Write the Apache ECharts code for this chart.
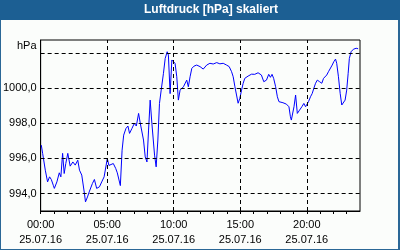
<!DOCTYPE html>
<html><head><meta charset="utf-8">
<script src="https://cdn.jsdelivr.net/npm/echarts@6/dist/echarts.min.js"></script>
<style>html,body{margin:0;padding:0;background:#fbfdfb}#c{width:400px;height:250px}</style>
</head><body><div id="c"></div>
<script>
const title = 'Luftdruck [hPa] skaliert';
const unit = 'hPa';
const dateLabel = '25.07.16';
const hours = [0.05,0.15,0.35,0.52,0.67,0.80,0.95,1.03,1.22,1.40,1.52,1.65,1.77,1.89,2.04,2.22,2.42,2.60,2.79,2.92,3.09,3.29,3.37,3.52,3.65,3.77,3.89,4.04,4.21,4.42,4.59,4.77,4.89,5.01,5.13,5.26,5.46,5.64,5.76,5.86,5.99,6.12,6.24,6.41,6.56,6.68,6.86,7.04,7.19,7.36,7.49,7.61,7.73,7.86,7.99,8.11,8.23,8.36,8.56,8.68,8.81,8.93,9.06,9.23,9.36,9.51,9.60,9.73,9.86,9.98,10.10,10.23,10.35,10.48,10.73,10.98,11.10,11.23,11.36,11.53,11.73,11.98,12.22,12.48,12.72,12.97,13.23,13.47,13.72,13.97,14.17,14.35,14.47,14.60,14.72,14.84,14.97,15.10,15.22,15.34,15.59,15.85,16.09,16.34,16.59,16.77,16.97,17.14,17.27,17.39,17.51,17.66,17.79,17.91,18.21,18.47,18.66,18.77,18.84,18.96,19.04,19.16,19.29,19.46,19.63,19.78,19.91,20.01,20.13,20.28,20.41,20.53,20.66,20.79,20.96,21.13,21.26,21.38,21.50,21.63,21.78,21.91,22.03,22.16,22.25,22.38,22.51,22.63,22.75,22.88,23.00,23.11,23.20,23.33,23.50,23.71,23.86];
const pressure = [996.76,996.29,995.33,994.66,994.95,994.80,994.47,994.29,994.66,995.18,994.95,996.29,995.14,995.71,996.29,995.56,995.80,995.62,995.90,995.33,995.05,994.00,993.52,993.80,994.09,994.00,994.57,994.80,994.29,994.38,994.66,994.95,994.86,996.00,995.60,995.52,995.71,995.43,995.18,995.20,994.45,996.47,997.33,997.71,997.85,997.43,997.71,998.00,997.85,998.57,998.00,997.90,997.05,996.09,995.80,997.62,999.33,998.00,996.19,995.52,997.05,999.14,999.90,1000.86,1001.71,1002.09,1001.90,999.70,1001.62,1001.71,1001.43,1000.66,999.33,999.90,1000.09,1000.47,1000.09,1000.66,1001.14,1001.27,1001.33,1001.24,1001.10,1001.33,1001.43,1001.39,1001.47,1001.40,1001.43,1001.33,1001.24,1000.95,1000.66,1000.09,999.62,999.15,999.43,999.90,1000.29,1000.57,1000.70,1000.81,1000.80,1000.89,1000.76,1000.38,1000.47,1000.80,1000.63,1000.80,1000.57,1000.09,999.52,999.24,999.18,999.10,998.95,998.38,998.19,998.13,998.95,999.62,998.57,998.76,998.95,999.14,998.95,998.86,999.24,999.52,999.71,1000.00,1000.29,1000.47,1000.38,1000.29,1000.57,1000.50,1000.76,1000.95,1001.05,1001.33,1001.52,1001.67,1001.43,1000.66,999.71,999.05,999.05,999.33,999.90,1000.86,1001.71,1002.09,1002.23,1002.29,1002.26];
const yGridValues = [994, 996, 998, 1000, 1002];
const yLabelValues = [994, 996, 998, 1000];
const xGridHours = [5, 10, 15, 20];
const xLabelHours = [0, 5, 10, 15, 20];
const yMin = 993, yMax = 1002.76, xMin = 0, xMax = 24;

const font = 'Liberation Sans';
const gridStyle = {color: '#000', type: [4, 3], width: 1};
const chart = echarts.init(document.getElementById('c'), null, {renderer: 'canvas'});
chart.setOption({
  backgroundColor: '#fbfdfb',
  animation: false,
  graphic: [
    {type: 'rect', left: 0, top: 0, shape: {width: 400, height: 20}, style: {fill: '#1c5f93'}},
    {type: 'rect', left: 0, top: 20, shape: {width: 1, height: 230}, style: {fill: '#2a6796'}},
    {type: 'rect', left: 398, top: 20, shape: {width: 2, height: 230}, style: {fill: '#2a6796'}},
    {type: 'rect', left: 0, top: 249, shape: {width: 400, height: 1}, style: {fill: '#2a6796'}},
    {type: 'text', x: 211, y: 10, style: {text: title, fill: '#fff', font: 'bold 12px "' + font + '"', textAlign: 'center', textVerticalAlign: 'middle'}},
    {type: 'text', x: 36.5, y: 46, style: {text: unit, fill: '#000', font: '11px "' + font + '"', textAlign: 'right', textVerticalAlign: 'middle'}}
  ],
  grid: {left: 40, top: 40, width: 320, height: 171, show: true, borderColor: '#000', borderWidth: 1, backgroundColor: 'transparent'},
  xAxis: {
    type: 'value', min: xMin, max: xMax, interval: 1,
    axisLine: {show: true, lineStyle: {color: '#000'}},
    axisTick: {show: true, length: 3, lineStyle: {color: '#000'}},
    splitLine: {show: false},
    axisLabel: {
      margin: 6, color: '#000', fontFamily: font, fontSize: 11, lineHeight: 15,
      showMinLabel: true, showMaxLabel: false,
      formatter: v => xLabelHours.includes(v) ? String(v).padStart(2, '0') + ':00\n' + dateLabel : ''
    }
  },
  yAxis: {
    type: 'value', min: yMin, max: yMax, interval: 1,
    axisLine: {show: true, lineStyle: {color: '#000'}},
    axisTick: {show: false},
    splitLine: {show: false},
    axisLabel: {
      margin: 4, color: '#000', fontFamily: font, fontSize: 11,
      formatter: v => yLabelValues.includes(v) ? v.toFixed(1).replace('.', ',') : ''
    }
  },
  series: [
    {
      type: 'line', data: [], z: 1, silent: true,
      markLine: {
        silent: true, symbol: 'none', label: {show: false},
        lineStyle: gridStyle, emphasis: {disabled: true},
        data: yGridValues.map(v => ({yAxis: v})).concat(xGridHours.map(h => ({xAxis: h})))
      }
    },
    {
      type: 'line', z: 3, showSymbol: false, symbol: 'none',
      lineStyle: {color: '#0000ff', width: 1},
      data: hours.map((h, i) => [h, pressure[i]])
    }
  ]
});
</script></body></html>
